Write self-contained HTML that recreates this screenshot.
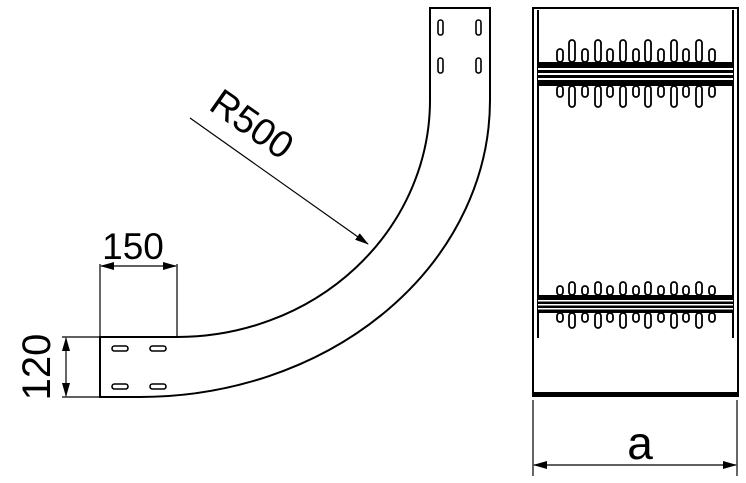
<!DOCTYPE html>
<html><head><style>body{margin:0;background:#fff}svg{display:block}</style></head><body>
<svg width="746" height="483" viewBox="0 0 746 483" xmlns="http://www.w3.org/2000/svg" font-family="Liberation Sans, sans-serif">
<defs>
<marker id="ar" markerWidth="14" markerHeight="8" refX="13" refY="4" orient="auto-start-reverse" markerUnits="userSpaceOnUse"><path d="M0,0 L14,4 L0,8 z" fill="#000"/></marker>
</defs>
<g fill="none" stroke="#000">
<path d="M100,337 L177,337 A253,237 0 0 0 430,100 L430,8 L490,8 L490,100 A350,297 0 0 1 140,397 L100,397 Z" stroke-width="2"/>
<g stroke-width="1.6">
<rect x="438" y="20" width="5" height="15" rx="2.5"/><rect x="476" y="20" width="5" height="15" rx="2.5"/>
<rect x="438" y="58" width="5" height="15" rx="2.5"/><rect x="476" y="58" width="5" height="15" rx="2.5"/>
<rect x="112" y="346" width="16" height="5" rx="2.5"/><rect x="150" y="346" width="16" height="5" rx="2.5"/>
<rect x="112" y="384" width="16" height="5" rx="2.5"/><rect x="150" y="384" width="16" height="5" rx="2.5"/>
</g>
<g stroke-width="1.2">
<path d="M100,337 V264 M177,337 V264"/>
<path d="M62,337 H100 M62,397 H100"/>
<line x1="190" y1="118" x2="368" y2="244" marker-end="url(#ar)"/>
<line x1="101" y1="266" x2="176" y2="266" marker-start="url(#ar)" marker-end="url(#ar)"/>
<line x1="66" y1="338" x2="66" y2="396" marker-start="url(#ar)" marker-end="url(#ar)"/>
<path d="M533,400 V476 M737,400 V476"/>
<line x1="534" y1="465" x2="736" y2="465" marker-start="url(#ar)" marker-end="url(#ar)"/>
</g>
<g stroke-width="2">
<path d="M533,338 V8 H738 V338"/>
<path d="M538,338 V10 M733,10 V338"/>
<path d="M533,338 V396 H738 V338"/>
</g>
<rect x="534" y="392" width="203" height="4" fill="#000" stroke="none"/>
</g>
<g>
<rect x="538" y="62" width="195" height="24" fill="#000"/>
<rect x="538" y="68" width="195" height="2" fill="#fff"/>
<rect x="538" y="73" width="195" height="2" fill="#fff"/>
<rect x="538" y="78" width="195" height="2" fill="#fff"/>
</g>
<g fill="#fff" stroke="#000" stroke-width="1.8">
<rect x="557" y="49" width="6" height="13" rx="3"/><rect x="557" y="86" width="6" height="11" rx="3"/>
<rect x="569" y="40" width="6" height="22" rx="3"/><rect x="569" y="86" width="6" height="21" rx="3"/>
<rect x="582" y="49" width="6" height="13" rx="3"/><rect x="582" y="86" width="6" height="11" rx="3"/>
<rect x="595" y="40" width="6" height="22" rx="3"/><rect x="595" y="86" width="6" height="21" rx="3"/>
<rect x="607" y="49" width="6" height="13" rx="3"/><rect x="607" y="86" width="6" height="11" rx="3"/>
<rect x="620" y="40" width="6" height="22" rx="3"/><rect x="620" y="86" width="6" height="21" rx="3"/>
<rect x="633" y="49" width="6" height="13" rx="3"/><rect x="633" y="86" width="6" height="11" rx="3"/>
<rect x="645" y="40" width="6" height="22" rx="3"/><rect x="645" y="86" width="6" height="21" rx="3"/>
<rect x="658" y="49" width="6" height="13" rx="3"/><rect x="658" y="86" width="6" height="11" rx="3"/>
<rect x="671" y="40" width="6" height="22" rx="3"/><rect x="671" y="86" width="6" height="21" rx="3"/>
<rect x="683" y="49" width="6" height="13" rx="3"/><rect x="683" y="86" width="6" height="11" rx="3"/>
<rect x="696" y="40" width="6" height="22" rx="3"/><rect x="696" y="86" width="6" height="21" rx="3"/>
<rect x="709" y="49" width="6" height="13" rx="3"/><rect x="709" y="86" width="6" height="11" rx="3"/>
</g>
<g transform="translate(0,233)">
<rect x="538" y="62" width="195" height="18" fill="#000"/>
<rect x="538" y="67" width="195" height="1.5" fill="#fff"/>
<rect x="538" y="71" width="195" height="1.5" fill="#fff"/>
<rect x="538" y="75" width="195" height="1.5" fill="#fff"/>
<g fill="#fff" stroke="#000" stroke-width="1.8">
<rect x="557" y="53" width="6" height="9" rx="3"/><rect x="557" y="80" width="6" height="9" rx="3"/>
<rect x="569" y="49" width="6" height="13" rx="3"/><rect x="569" y="80" width="6" height="15" rx="3"/>
<rect x="582" y="53" width="6" height="9" rx="3"/><rect x="582" y="80" width="6" height="9" rx="3"/>
<rect x="595" y="49" width="6" height="13" rx="3"/><rect x="595" y="80" width="6" height="15" rx="3"/>
<rect x="607" y="53" width="6" height="9" rx="3"/><rect x="607" y="80" width="6" height="9" rx="3"/>
<rect x="620" y="49" width="6" height="13" rx="3"/><rect x="620" y="80" width="6" height="15" rx="3"/>
<rect x="633" y="53" width="6" height="9" rx="3"/><rect x="633" y="80" width="6" height="9" rx="3"/>
<rect x="645" y="49" width="6" height="13" rx="3"/><rect x="645" y="80" width="6" height="15" rx="3"/>
<rect x="658" y="53" width="6" height="9" rx="3"/><rect x="658" y="80" width="6" height="9" rx="3"/>
<rect x="671" y="49" width="6" height="13" rx="3"/><rect x="671" y="80" width="6" height="15" rx="3"/>
<rect x="683" y="53" width="6" height="9" rx="3"/><rect x="683" y="80" width="6" height="9" rx="3"/>
<rect x="696" y="49" width="6" height="13" rx="3"/><rect x="696" y="80" width="6" height="15" rx="3"/>
<rect x="709" y="53" width="6" height="9" rx="3"/><rect x="709" y="80" width="6" height="9" rx="3"/>
</g>
</g>
<g fill="#000" font-size="37">
<text x="133" y="259" text-anchor="middle">150</text>
<text transform="translate(50,367) rotate(-90)" text-anchor="middle" font-size="40">120</text>
<text transform="translate(252,124) rotate(35)" y="13" text-anchor="middle" font-size="38">R500</text>
<text x="640" y="459" text-anchor="middle" font-size="46">a</text>
</g>
</svg>
</body></html>
